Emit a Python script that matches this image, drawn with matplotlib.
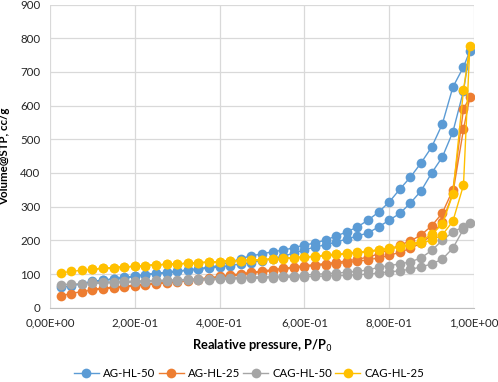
import matplotlib
matplotlib.use("Agg")
import matplotlib.pyplot as plt
from matplotlib.ticker import FuncFormatter, MultipleLocator

# relative pressure, adsorption branch (up) and desorption branch (down)
p_ads = [0.025, 0.05, 0.075, 0.10, 0.125, 0.15, 0.175, 0.20, 0.225, 0.25,
         0.275, 0.30, 0.325, 0.35, 0.375, 0.40, 0.425, 0.45, 0.475, 0.50,
         0.525, 0.55, 0.575, 0.60, 0.625, 0.65, 0.675, 0.70, 0.725, 0.75,
         0.775, 0.80, 0.825, 0.85, 0.875, 0.90, 0.925, 0.95, 0.975, 0.99]
p_des = [0.975, 0.95, 0.925, 0.90, 0.875, 0.85, 0.825, 0.80, 0.775, 0.75,
         0.725, 0.70, 0.675, 0.65, 0.625, 0.60, 0.575, 0.55, 0.525, 0.50,
         0.475, 0.45, 0.425, 0.40, 0.375, 0.35, 0.325, 0.30, 0.275, 0.25,
         0.225, 0.20, 0.175, 0.15, 0.125, 0.10]

ag50_ads = [60, 65, 71, 77, 81, 85, 89, 93, 97, 101,
            104, 108, 111, 114, 118, 121, 125, 130, 134, 140,
            146, 153, 162, 172, 180, 187, 195, 204, 213, 222,
            240, 260, 280, 311, 347, 400, 447, 522, 644, 762]
ag50_des = [715, 655, 545, 477, 430, 388, 352, 314, 284, 260,
            240, 225, 213, 201, 192, 186, 178, 171, 166, 160,
            154, 146, 135, 126, 120, 116, 112, 109, 105, 102,
            98, 94, 90, 86, 82, 78]

ag25_ads = [35, 42, 48, 52, 56, 59, 62, 65, 68, 71,
            74, 77, 80, 83, 86, 90, 94, 98, 102, 106,
            110, 114, 118, 122, 125, 128, 131, 134, 138, 142,
            148, 155, 165, 176, 192, 215, 255, 340, 530, 625]
ag25_des = [590, 350, 281, 243, 216, 198, 186, 172, 160, 150,
            144, 139, 135, 131, 128, 125, 121, 117, 113, 109,
            105, 101, 97, 93, 89, 86, 82, 79, 76, 73,
            70, 67, 64, 61, 58, 55]

cag50_ads = [68, 70, 71, 72, 73, 74, 75, 76, 77, 78,
             79, 80, 81, 82, 83, 84, 85, 86, 87, 88,
             89, 90, 91, 92, 93, 94, 95, 96, 98, 100,
             103, 106, 110, 114, 121, 130, 144, 177, 233, 252]
cag50_des = [240, 225, 200, 170, 148, 136, 130, 125, 120, 112,
             108, 105, 103, 101, 99, 97, 95, 94, 93, 92,
             91, 90, 88, 87, 86, 85, 84, 83, 82, 81,
             80, 79, 78, 77, 76, 75]

cag25_ads = [103, 108, 111, 114, 117, 119, 121, 123, 125, 127,
             129, 130, 132, 134, 135, 137, 139, 140, 141, 142,
             144, 146, 148, 150, 152, 155, 158, 160, 163, 166,
             170, 174, 180, 186, 192, 200, 216, 257, 364, 777]
cag25_des = [646, 337, 248, 218, 198, 188, 182, 177, 172, 168,
             165, 162, 159, 156, 153, 151, 149, 147, 145, 143,
             141, 140, 139, 137, 135, 134, 132, 130, 129, 127,
             125, 123, 121, 119, 117, 115]

names = ["AG-HL-50", "AG-HL-25", "CAG-HL-50", "CAG-HL-25"]
colors = ["#5B9BD5", "#ED7D31", "#A5A5A5", "#FFC000"]
series = [(ag50_ads, ag50_des), (ag25_ads, ag25_des),
          (cag50_ads, cag50_des), (cag25_ads, cag25_des)]

plt.rcParams['font.family'] = ['Lato', 'DejaVu Sans']

fig = plt.figure(figsize=(4.98, 3.82), dpi=100)
ax = fig.add_axes([0.1004, 0.1945, 0.8516, 0.7935])

for name, col, (ads, des) in zip(names, colors, series):
    ax.plot(p_ads + p_des, ads + des, color=col, lw=1.0, marker='o',
            markersize=7, markeredgewidth=0, label=name)

ax.set_xlim(0, 1.0)
ax.set_ylim(0, 900)
ax.xaxis.set_major_locator(MultipleLocator(0.2))
ax.yaxis.set_major_locator(MultipleLocator(100))
ax.xaxis.set_major_formatter(
    FuncFormatter(lambda v, pos: f"{v:.2E}".replace('.', ',')))

ax.grid(True, color='#D9D9D9', lw=0.9)
ax.set_axisbelow(True)
for s in ['top', 'right', 'left']:
    ax.spines[s].set_visible(False)
ax.spines['bottom'].set_color('#BFBFBF')
ax.tick_params(length=0, labelsize=8.3, pad=7)
for lab in ax.get_xticklabels() + ax.get_yticklabels():
    lab.set_color('#262626')

ax.set_xlabel("Realative pressure, P/P$_0$", fontsize=9.3, fontweight='bold',
              labelpad=7)
ax.set_ylabel("Volume@STP, cc/g", fontsize=8.3, fontweight='bold', labelpad=7)

fig.legend(loc='lower center', bbox_to_anchor=(0.5, -0.018), ncol=4,
           frameon=False, fontsize=8.2, handlelength=2.2, columnspacing=0.3,
           handletextpad=0.35)

fig.savefig("out.png", dpi=100)
